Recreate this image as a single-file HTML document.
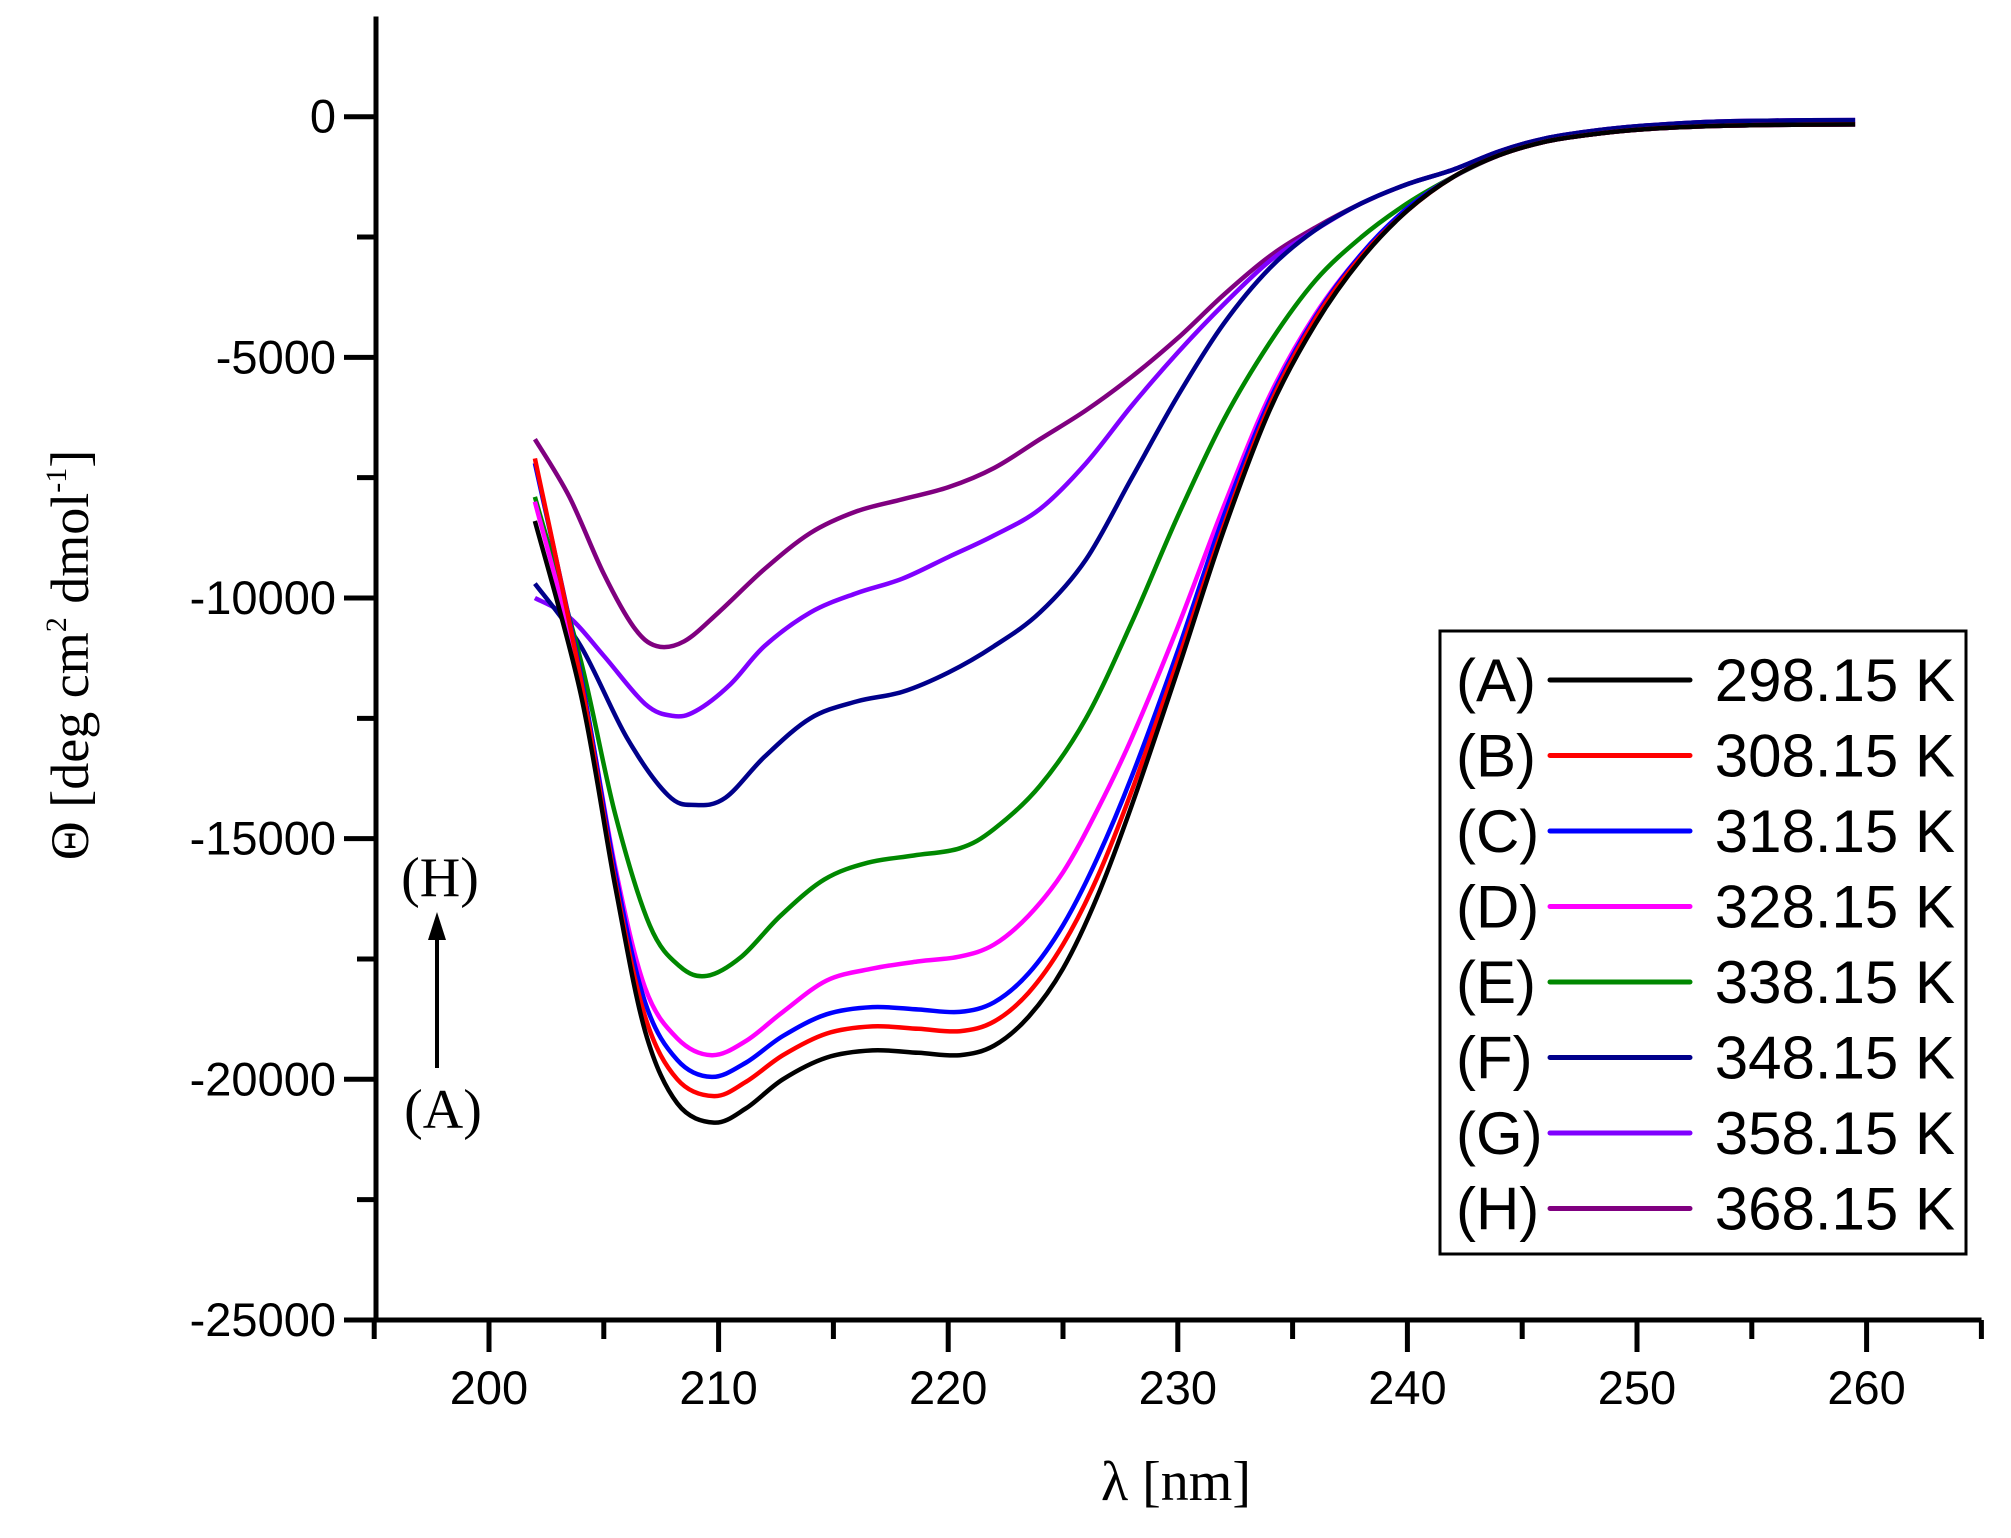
<!DOCTYPE html>
<html><head><meta charset="utf-8"><style>
html,body{margin:0;padding:0;background:#fff;}
svg{display:block;}
.t{font-family:"Liberation Sans",sans-serif;font-size:47px;fill:#000;}
.s{font-family:"Liberation Serif",serif;fill:#000;}
.l{font-family:"Liberation Sans",sans-serif;font-size:60px;fill:#000;}
</style></head><body>
<svg id="c" width="2011" height="1538" viewBox="0 0 2011 1538" xmlns="http://www.w3.org/2000/svg">
<g stroke="#000" stroke-width="5" fill="none" stroke-linecap="square">
<line x1="376" y1="19" x2="376" y2="1320"/>
<line x1="376" y1="1320" x2="1979" y2="1320"/>
</g>
<g id="ticks" stroke="#000" stroke-width="5"></g>
<g id="labels"></g>
<g id="curves" fill="none" stroke-width="4.5" stroke-linejoin="round"></g>
<text class="s" font-size="54" transform="translate(88,655) rotate(-90)" text-anchor="middle">Θ [deg cm<tspan font-size="30" dy="-22">2</tspan><tspan dy="22"> dmol</tspan><tspan font-size="30" dy="-22">-1</tspan><tspan dy="22">]</tspan></text>
<text class="s" font-size="56" x="1176" y="1500" text-anchor="middle">λ [nm]</text>
<text class="s" font-size="56" x="440" y="896" text-anchor="middle">(H)</text>
<text class="s" font-size="56" x="443" y="1128" text-anchor="middle">(A)</text>
<line x1="437" y1="1068" x2="437" y2="935" stroke="#000" stroke-width="4"/>
<polygon points="437,912 428,940 446,940" fill="#000"/>
<rect x="1440" y="631" width="526" height="623" fill="#fff" stroke="#000" stroke-width="3"/>
<g id="legend"></g>
</svg>
<script>
var NS="http://www.w3.org/2000/svg";
function X(n){return 489+(n-200)*22.96;}
function Y(v){return 116.7-v*0.04813;}
function el(t,a,p,txt){var e=document.createElementNS(NS,t);for(var k in a)e.setAttribute(k,a[k]);if(txt!=null)e.textContent=txt;document.getElementById(p).appendChild(e);}
for(var n=195;n<=265;n+=5){var maj=(n%10==0);el('line',{x1:X(n),y1:1320,x2:X(n),y2:maj?1352:1339},'ticks');if(maj&&n>=200&&n<=260)el('text',{x:X(n),y:1404,'text-anchor':'middle','class':'t'},'labels',String(n));}
for(var v=0;v>=-25000;v-=2500){var maj=(v%5000==0);el('line',{x1:376,y1:Y(v),x2:maj?344:357,y2:Y(v)},'ticks');if(maj)el('text',{x:336,y:Y(v)+16,'text-anchor':'end','class':'t'},'labels',String(v));}
var tailLo=[[242,-1250],[244,-800],[246,-520],[248,-370],[250,-270],[253,-200],[256,-170],[259.5,-160]];
var tailHi=[[242,-1100],[244,-720],[246,-450],[248,-300],[250,-200],[253,-110],[256,-80],[259.5,-70]];
var D={
A:['#000',[[202,-8400],[204,-12000],[205.5,-16000],[206.8,-19000],[208.2,-20500],[209.8,-20900],[211.2,-20600],[212.8,-20000],[214.7,-19550],[216.7,-19400],[218.7,-19450],[220.5,-19500],[222,-19300],[223.5,-18700],[225,-17700],[226.5,-16200],[228,-14300],[230,-11500],[232,-8600],[234,-6100],[236,-4300],[238,-2950],[240,-1950]],0],
B:['#f00',[[202,-7100],[204,-11700],[205.5,-15900],[206.8,-18700],[208.2,-20000],[209.8,-20350],[211.2,-20050],[212.8,-19500],[214.7,-19050],[216.7,-18900],[218.7,-18950],[220.5,-19000],[222,-18800],[223.5,-18200],[225,-17200],[226.5,-15800],[228,-14000],[230,-11300],[232,-8500],[234,-6000],[236,-4200],[238,-2900],[240,-1950]],0],
C:['#00f',[[202,-7200],[204,-11600],[205.5,-15700],[206.8,-18400],[208.2,-19600],[209.7,-19950],[211.2,-19650],[212.8,-19100],[214.7,-18650],[216.7,-18500],[218.7,-18550],[220.5,-18600],[222,-18400],[223.5,-17800],[225,-16800],[226.5,-15400],[228,-13700],[230,-11100],[232,-8300],[234,-5900],[236,-4150],[238,-2850],[240,-1900]],0],
D:['#f0f',[[202,-8000],[204,-11700],[205.5,-15600],[206.8,-18100],[208.2,-19150],[209.7,-19500],[211.2,-19200],[212.8,-18600],[214.7,-17950],[216.7,-17700],[218.7,-17550],[220.5,-17450],[222,-17200],[223.5,-16600],[225,-15700],[226.5,-14400],[228,-12900],[230,-10600],[232,-8100],[234,-5800],[236,-4100],[238,-2850],[240,-1900]],0],
E:['#080',[[202,-7900],[204,-11300],[205.5,-14500],[207,-16800],[208.3,-17650],[209.5,-17850],[211,-17450],[212.7,-16600],[214.6,-15850],[216.5,-15500],[218.5,-15350],[220.5,-15200],[222,-14800],[224,-13900],[226,-12500],[228,-10500],[230,-8300],[232,-6300],[234,-4700],[236,-3400],[238,-2500],[240,-1800]],0],
F:['#00008b',[[202,-9700],[204,-11000],[206,-12900],[207.8,-14100],[209,-14300],[210.3,-14150],[212,-13300],[214,-12500],[216,-12150],[218,-11950],[220,-11550],[222,-11000],[224,-10300],[226,-9200],[228,-7500],[230,-5800],[232,-4300],[234,-3150],[236,-2350],[238,-1800],[240,-1400]],1],
G:['#8000ff',[[202,-10000],[203.5,-10400],[205,-11200],[206.8,-12200],[208,-12450],[209,-12350],[210.5,-11800],[212,-11000],[214,-10300],[216,-9900],[218,-9600],[220,-9150],[222,-8700],[224,-8150],[226,-7200],[228,-6000],[230,-4900],[232,-3900],[234,-3000],[236,-2350],[238,-1800],[240,-1400]],1],
H:['#800080',[[202,-6700],[203.5,-7900],[205,-9500],[206.3,-10600],[207.3,-11000],[208.5,-10900],[210,-10300],[212,-9400],[214,-8650],[216,-8200],[218,-7950],[220,-7700],[222,-7300],[224,-6700],[226,-6100],[228,-5400],[230,-4600],[232,-3700],[234,-2900],[236,-2300],[238,-1800],[240,-1400]],1]
};
function path(pts){var p=pts.map(function(q){return [X(q[0]),Y(q[1])];});var d='M'+p[0][0].toFixed(1)+','+p[0][1].toFixed(1);
for(var i=0;i<p.length-1;i++){var p0=p[i-1]||p[i],p1=p[i],p2=p[i+1],p3=p[i+2]||p2;
d+=' C'+(p1[0]+(p2[0]-p0[0])/6).toFixed(1)+','+(p1[1]+(p2[1]-p0[1])/6).toFixed(1)+' '+(p2[0]-(p3[0]-p1[0])/6).toFixed(1)+','+(p2[1]-(p3[1]-p1[1])/6).toFixed(1)+' '+p2[0].toFixed(1)+','+p2[1].toFixed(1);}
return d;}
var keys=['H','G','F','E','D','C','B','A'];
keys.forEach(function(k){var pts=D[k][1].concat(D[k][2]?tailHi:tailLo);el('path',{d:path(pts),stroke:D[k][0]},'curves');});
var vals={A:'298.15 K',B:'308.15 K',C:'318.15 K',D:'328.15 K',E:'338.15 K',F:'348.15 K',G:'358.15 K',H:'368.15 K'};
['A','B','C','D','E','F','G','H'].forEach(function(k,i){var y=680+i*75.5;
el('text',{x:1456,y:y+21,'class':'l'},'legend','('+k+')');
el('line',{x1:1550,y1:y,x2:1690,y2:y,stroke:D[k][0],'stroke-width':5,'stroke-linecap':'round'},'legend');
el('text',{x:1955,y:y+21,'class':'l','text-anchor':'end'},'legend',vals[k]);});
</script>
</body></html>
